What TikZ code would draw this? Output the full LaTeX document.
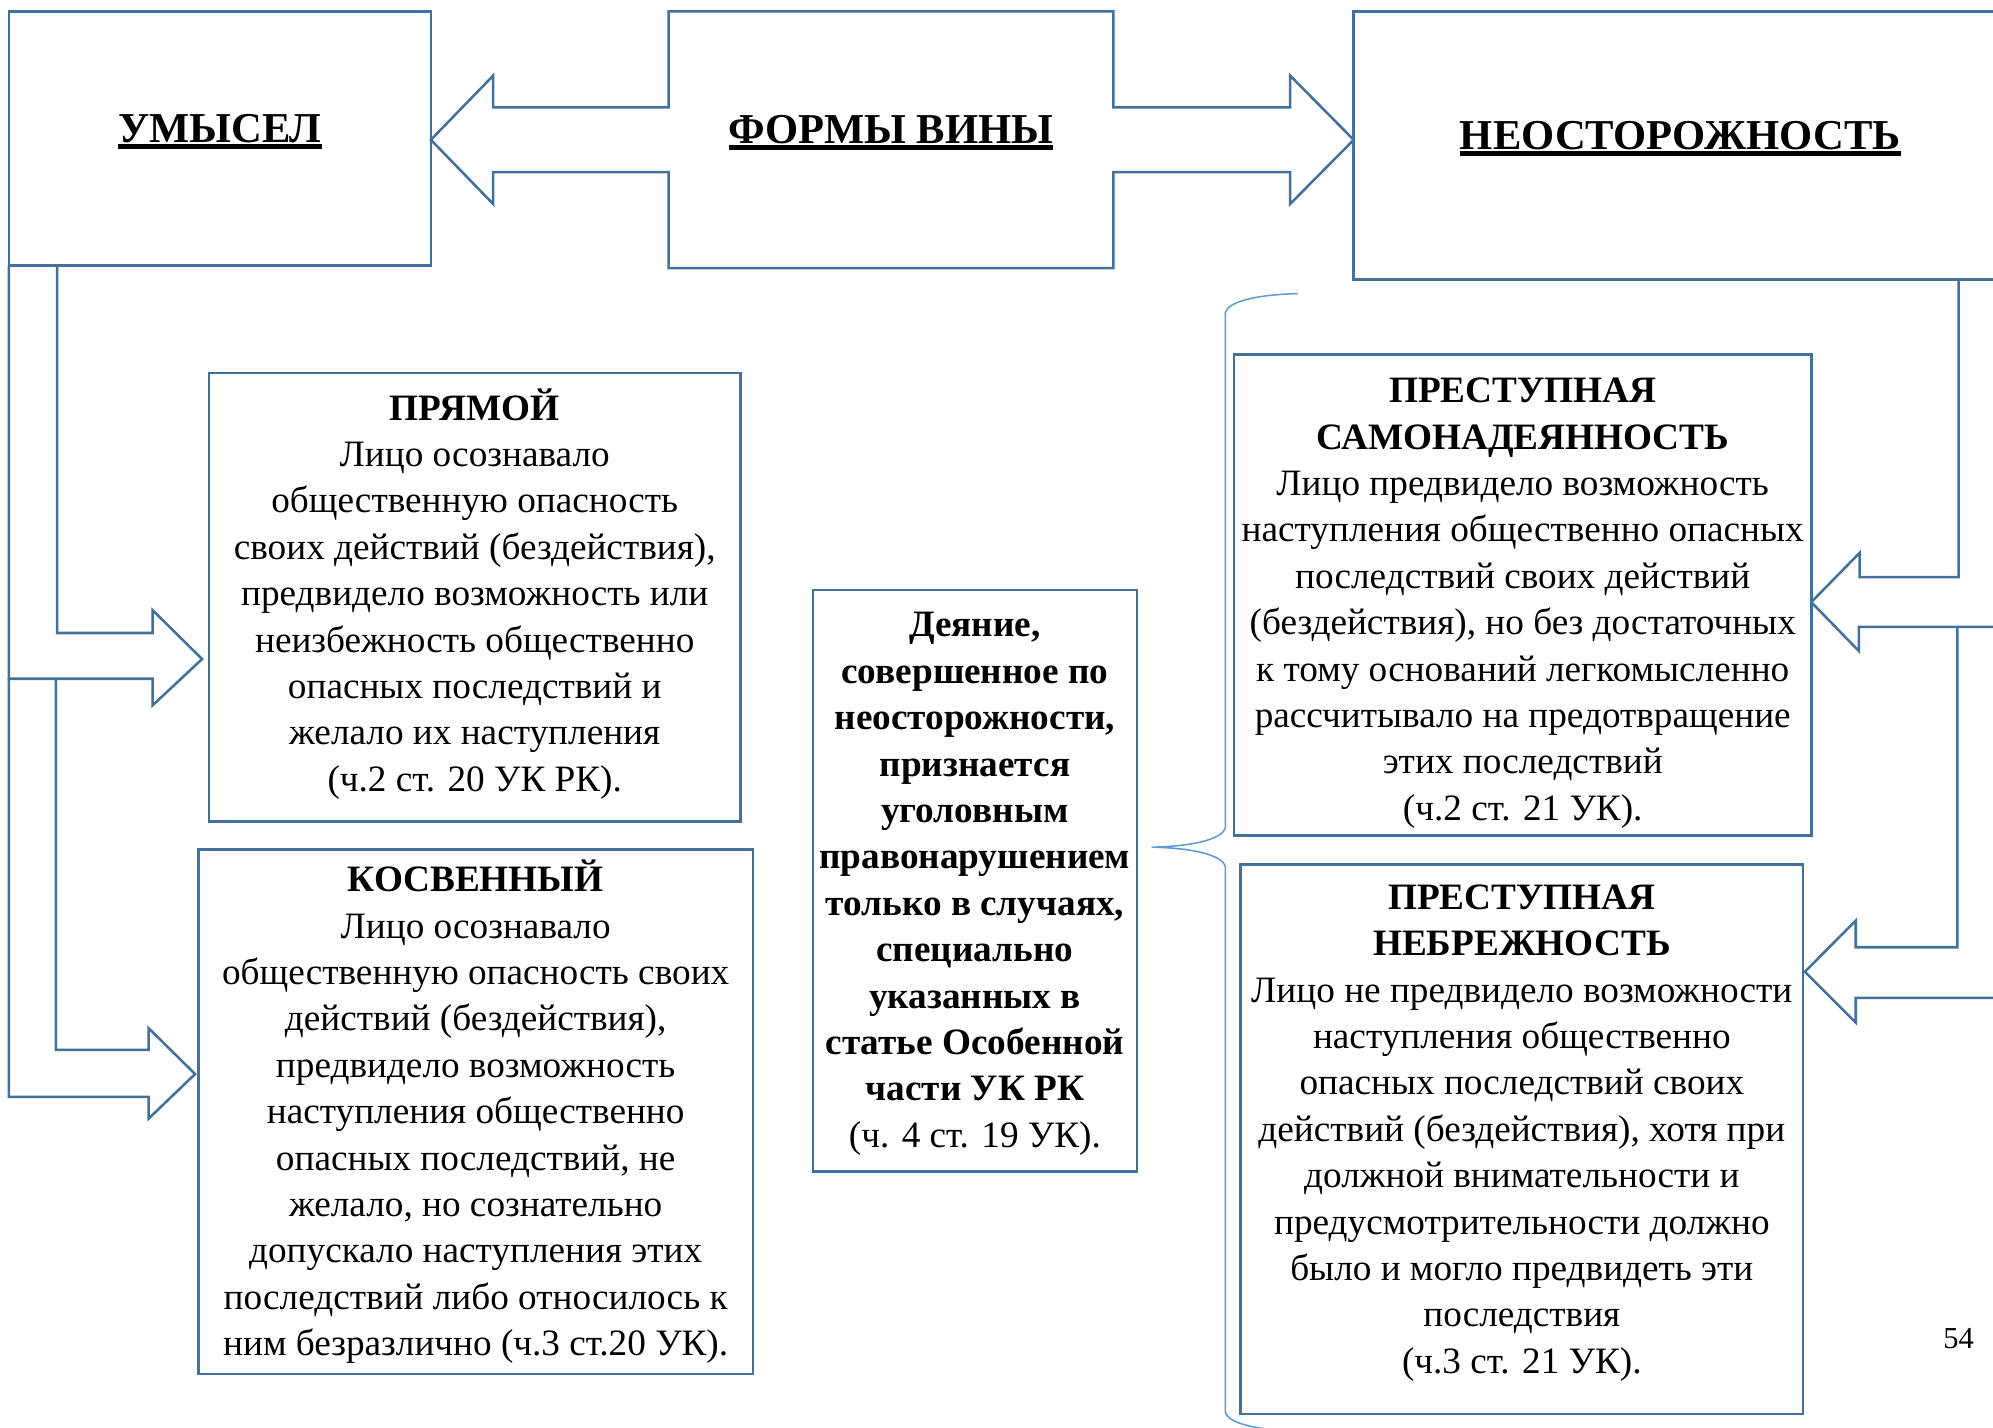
\documentclass[tikz,border=0pt]{standalone}
\usepackage{fontspec}
\setmainfont{Liberation Serif}
\usetikzlibrary{positioning, calc}

\definecolor{boxblue}{RGB}{65,113,156}
\definecolor{braceblue}{RGB}{91,155,213}
\newcommand{\bodyfont}{\fontsize{29.3}{36.5}\selectfont}
\newcommand{\headfont}{\fontsize{33.5}{40}\selectfont\bfseries}
\newsavebox{\headbox}
\newcommand{\ulhead}[1]{\sbox{\headbox}{#1}\rlap{\rule[-4.9pt]{\wd\headbox}{3.5pt}}\usebox{\headbox}}

\begin{document}
\begin{tikzpicture}[x=1pt, y=-1pt,
    box/.style={draw=boxblue, line width=2pt, align=center, inner sep=0pt, outer sep=0pt, font=\bodyfont},
    headbox/.style={draw=boxblue, line width=2pt, inner sep=0pt, outer sep=0pt, font=\headfont, text height=20pt, text depth=14pt},
    blockarrow/.style={draw=boxblue, line width=2pt, line join=miter},
    bracket/.style={draw=braceblue, line width=1.2pt}
  ]
    \clip (0,0) rectangle (1568,1123);

    % Top row: the two forms and the middle title
    \node[headbox, minimum width=332pt, minimum height=200pt] (umysel) at (173,109) {\ulhead{УМЫСЕЛ}};
    \node[headbox, draw=none, minimum width=350pt, minimum height=202pt] (formy) at (701,110) {\ulhead{ФОРМЫ ВИНЫ}};
    \node[headbox, minimum width=514pt, minimum height=211pt] (neost) at (1322,114.5) {\ulhead{НЕОСТОРОЖНОСТЬ}};

    % Two-headed block arrow round the title
    \draw[blockarrow] (formy.north west) -- (formy.north east) -- ++(0,75.5) -- ++(139,0) -- ++(0,-25)
      -- (neost.west |- formy.center) -- ++(-50,50.5) -- ++(0,-25) -- ++(-139,0) -- (formy.south east)
      -- (formy.south west) -- ++(0,-75.5) -- ++(-138,0) -- ++(0,25) -- (umysel.east |- formy.center)
      -- ++(49,-50.5) -- ++(0,25) -- ++(138,0) -- cycle;

    % Kinds of intent
    \node[box, minimum width=418pt, minimum height=353pt] (pryamoy) at (373.5,470) {\textbf{ПРЯМОЙ}\\
      Лицо осознавало\\ общественную опасность\\ своих действий (бездействия),\\
      предвидело возможность или\\ неизбежность общественно\\ опасных последствий и\\
      желало их наступления\\ (ч.2 ст. 20 УК РК).\rule[-12pt]{0pt}{0pt}};
    \node[box, minimum width=436.5pt, minimum height=412.5pt] (kosv) at (374.25,874.75) {\rule{0pt}{24pt}\textbf{КОСВЕННЫЙ}\\
      Лицо осознавало\\ общественную опасность своих\\ действий (бездействия),\\
      предвидело возможность\\ наступления общественно\\ опасных последствий, не\\
      желало, но сознательно\\ допускало наступления этих\\ последствий либо относилось к\\
      ним безразлично (ч.3 ст.20 УК).};

    % Middle note
    \node[box, minimum width=255pt, minimum height=457.5pt] (deyanie) at (767,693) {\rule{0pt}{24pt}\textbf{Деяние,}\\
      \textbf{совершенное по}\\ \textbf{неосторожности,}\\ \textbf{признается}\\ \textbf{уголовным}\\
      \textbf{правонарушением}\\ \textbf{только в случаях,}\\ \textbf{специально}\\ \textbf{указанных в}\\
      \textbf{статье Особенной}\\ \textbf{части УК РК}\\ (ч. 4 ст. 19 УК).};

    % Kinds of negligence
    \node[box, minimum width=454pt, minimum height=378.5pt] (samonad) at (1198,468.25) {\rule{0pt}{32pt}\textbf{ПРЕСТУПНАЯ}\\
      \textbf{САМОНАДЕЯННОСТЬ}\\ Лицо предвидело возможность\\ наступления общественно опасных\\
      последствий своих действий\\ (бездействия), но без достаточных\\ к тому оснований легкомысленно\\
      рассчитывало на предотвращение\\ этих последствий\\ (ч.2 ст. 21 УК).};
    \node[box, minimum width=442.6pt, minimum height=432.5pt] (nebrezh) at (1197.3,896.25) {\textbf{ПРЕСТУПНАЯ}\\
      \textbf{НЕБРЕЖНОСТЬ}\\ Лицо не предвидело возможности\\ наступления общественно\\
      опасных последствий своих\\ действий (бездействия), хотя при\\ должной внимательности и\\
      предусмотрительности должно\\ было и могло предвидеть эти\\ последствия\\ (ч.3 ст. 21 УК).\rule[-16pt]{0pt}{0pt}};

    % Bent arrows down the left side
    \draw[blockarrow] (umysel.south west) -- ++(0,325) coordinate (forkL) -- ++(113,0) -- ++(0,21)
      -- ([xshift=-5.5pt,yshift=-48.5pt]pryamoy.west) -- ++(-39,-38.5) -- ++(0,18) -- ++(-75,0) -- ++(0,-289);
    \draw[blockarrow] (forkL) -- ++(0,329) -- ++(110,0) -- ++(0,17)
      -- ([xshift=-2.5pt,yshift=29.75pt]kosv.west) -- ++(-36.5,-36) -- ++(0,17) -- ++(-73,0) -- ++(0,-292);

    % Bent arrows down the right side
    \draw[blockarrow] ([xshift=-38pt]neost.south east) -- ++(0,234) -- ++(-78,0) -- ++(0,-19)
      -- ([yshift=-5.5pt]samonad.east) -- ++(37.5,38.5) -- ++(0,-19) -- ++(116.5,0) coordinate (forkR) -- (neost.south east);
    \draw[blockarrow] ([xshift=-39pt]forkR) -- ++(0,252) -- ++(-80,0) -- ++(0,-21)
      -- ([xshift=1.4pt,yshift=-84.5pt]nebrezh.north east) -- ++(40,40) -- ++(0,-19.5) -- ++(119,0) -- (forkR);

    % Brace pointing at the middle note
    \coordinate (braceTip) at ([xshift=11.5pt,yshift=26.5pt]deyanie.east);
    \draw[bracket] (1021,231) .. controls (985,232) and (966,238) .. (964,246) -- (964,651)
      .. controls (962,661) and (935,666) .. (braceTip) .. controls (935,667) and (962,672) .. (964,682)
      -- (964,1111) .. controls (966,1119) and (985,1125) .. (1021,1126);

    % Page number
    \node[font=\fontsize{24}{28}\selectfont] (pagenum) at (1541,1053) {54};

\end{tikzpicture}
\end{document}
